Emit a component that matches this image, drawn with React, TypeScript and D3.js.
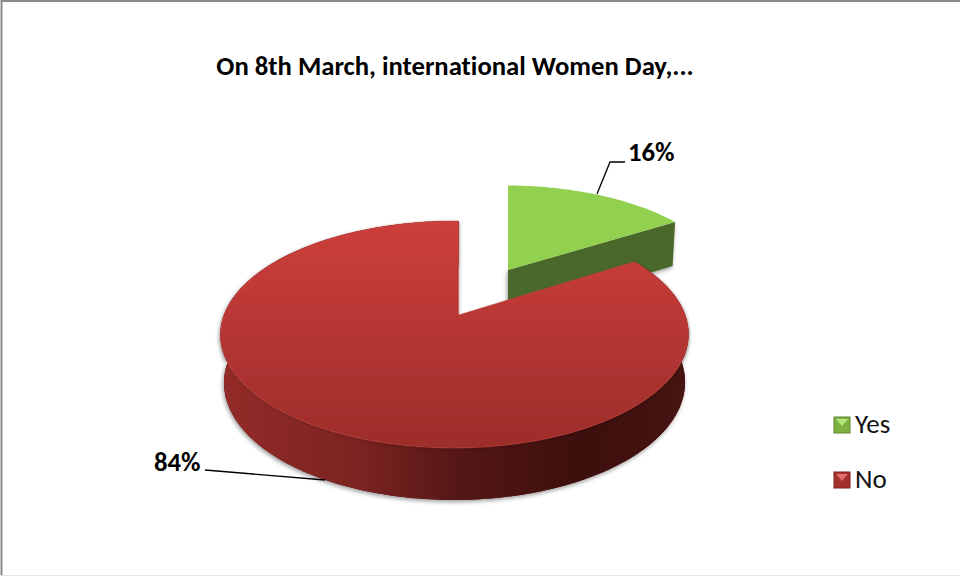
import React from "react";
import * as d3 from "d3";

const categories = ["Yes", "No"];
const values = [16, 84];
const percentLabels = ["16%", "84%"];
const chartTitle = "On 8th March, international Women Day,...";

const W = 960;
const H = 576;
const FONT = "Carlito, Calibri, Lato, 'Open Sans', sans-serif";

// perspective of the pie plane, fitted by eye on the reference
const cx = 458.5;
const cy = 315;
const rx = 230.5;
const ry = 110.1;
const perspZ = 0.1718;
const perspX = 0.017;

// the bottom ring is a bit narrower and a bit taller than the top one
const depth = { sx: 0.985, sy: 1.035, dy: 47.3 };
// the pulled out slice sits further back, so it is drawn smaller
const pulled = { x: 508, y: 270, sx: 0.95, sy: 0.9, dy: 45.7 };

type Pt = [number, number];

// unit plane -> screen offset from the apex
function project(X: number, Z: number): Pt {
    const w = 1 + perspZ * Z + perspX * X;
    return [(rx * X) / w, (-ry * Z) / w];
}

function arcPoints(a0: number, a1: number): Pt[] {
    const n = Math.ceil(Math.abs(a1 - a0) / 0.02);
    return d3.range(n + 1).map((i) => {
        const a = a0 + ((a1 - a0) * i) / n;
        return project(Math.sin(a), Math.cos(a));
    });
}

const pieData = d3.pie<number>().sort(null)(values);
const pathOf = d3.line<Pt>();

function Slice({ index }: { index: number }) {
    const d = pieData[index];
    const isYes = index === 0;
    const arc = arcPoints(d.startAngle, d.endAngle);

    if (isYes) {
        const up = ([x, y]: Pt): Pt => [pulled.x + x * pulled.sx, pulled.y + y * pulled.sy];
        const down = ([x, y]: Pt): Pt => [
            pulled.x + x * pulled.sx * depth.sx,
            pulled.y + y * pulled.sy * depth.sy + pulled.dy,
        ];
        const apex: Pt = [0, 0];
        const end = arc[arc.length - 1];
        return (
            <g>
                <path
                    d={pathOf([up(apex), up(end), down(end), down(apex)]) + "Z"}
                    fill="#4a6729"
                    filter="url(#softShadow)"
                />
                <path d={pathOf([up(apex), ...arc.map(up)]) + "Z"} fill="#92d050" />
            </g>
        );
    }

    const up = ([x, y]: Pt): Pt => [cx + x, cy + y];
    const down = ([x, y]: Pt): Pt => [cx + x * depth.sx, cy + y * depth.sy + depth.dy];
    const top = arc.map(up);
    const low = arc.map(down);
    const wallPath = pathOf([...top, ...low.reverse()]) + "Z";
    return (
        <g>
            <path d={wallPath} fill="#4a1513" filter="url(#softShadow)" />
            <path d={wallPath} fill="url(#redWall)" />
            <path
                d={pathOf([up([0, 0]), ...top]) + "Z"}
                fill="url(#redFace)"
                stroke="#c8413c"
                strokeWidth={0.8}
                strokeOpacity={0.55}
                filter="url(#gapShadow)"
            />
        </g>
    );
}

function Legend() {
    const y = d3.scalePoint<string>().domain(categories).range([425, 480]);
    const fills = ["#7fb142", "#a52f2c"];
    const lights = ["#b4e678", "#e0706b"];
    const edges = ["#5f8433", "#7c2220"];
    return (
        <g>
            {categories.map((c, i) => (
                <g key={c} transform={`translate(834,${y(c)})`}>
                    <rect x={0} y={-8} width={16} height={16} fill={fills[i]} stroke={edges[i]} strokeWidth={1} />
                    <path d="M2,-6H14L8,1Z" fill={lights[i]} />
                    <text x={21} y={8} fontSize={27} fill="#111" fontFamily={FONT} style={{ fontVariantLigatures: "none" }}>
                        {c}
                    </text>
                </g>
            ))}
        </g>
    );
}

export default function App() {
    const boldText = { fontWeight: 700, fill: "#000", fontFamily: FONT, fontVariantLigatures: "none" };
    return (
        <svg
            width={W}
            height={H}
            viewBox={`0 0 ${W} ${H}`}
            style={{ position: "fixed", left: 0, top: 0, background: "#fff", display: "block" }}
        >
            <defs>
                <linearGradient id="redFace" x1="0" y1="221" x2="0" y2="448" gradientUnits="userSpaceOnUse">
                    <stop offset="0" stopColor="#cd3f3b" />
                    <stop offset="0.5" stopColor="#b53633" />
                    <stop offset="1" stopColor="#9c2d2a" />
                </linearGradient>
                <linearGradient id="redWall" x1="225" y1="0" x2="688" y2="0" gradientUnits="userSpaceOnUse">
                    <stop offset="0" stopColor="#932b28" />
                    <stop offset="0.3" stopColor="#7a2320" />
                    <stop offset="0.5" stopColor="#551716" />
                    <stop offset="0.77" stopColor="#3c0f0d" />
                    <stop offset="1" stopColor="#471412" />
                </linearGradient>
                <filter id="softShadow" x="-10%" y="-10%" width="120%" height="120%">
                    <feDropShadow dx={-1} dy={2} stdDeviation={2} floodColor="#000" floodOpacity={0.4} />
                </filter>
                <filter id="gapShadow" x="-5%" y="-5%" width="110%" height="110%">
                    <feDropShadow dx={1} dy={1} stdDeviation={1.5} floodColor="#000" floodOpacity={0.25} />
                </filter>
            </defs>

            <path d={`M1.5,${H}V1H${W}`} fill="none" stroke="#8a8a8a" strokeWidth={2} />
            <line x1={0} x2={W} y1={575.5} y2={575.5} stroke="#e6e6e6" />

            <text x={455} y={75} textAnchor="middle" fontSize={26.7} style={boldText}>
                {chartTitle}
            </text>

            <Slice index={0} />
            <Slice index={1} />

            <path d="M597,194L610,162H625" fill="none" stroke="#000" strokeWidth={1.3} />
            <text x={628} y={161} fontSize={26.7} style={boldText}>
                {percentLabels[0]}
            </text>
            <path d="M205,470L325,480" fill="none" stroke="#000" strokeWidth={1.3} />
            <text x={154} y={471} fontSize={26.7} style={boldText}>
                {percentLabels[1]}
            </text>

            <Legend />
        </svg>
    );
}
